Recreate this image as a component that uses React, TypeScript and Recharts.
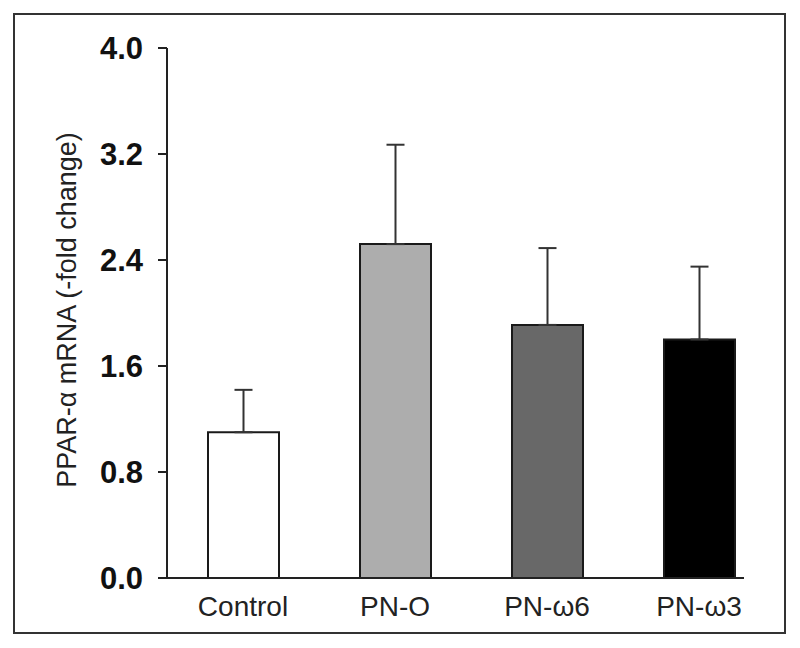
import { BarChart, Bar, XAxis, YAxis, ErrorBar, Cell } from "recharts";

const groups = ["Control", "PN-O", "PN-ω6", "PN-ω3"];
const foldChange = [1.1, 2.52, 1.91, 1.8];
const errorUp = [0.32, 0.75, 0.58, 0.55];
const barColors = ["#ffffff", "#adadad", "#686868", "#000000"];
const yTicks = [0, 0.8, 1.6, 2.4, 3.2, 4.0];

const data = groups.map((name, i) => ({
  name,
  value: foldChange[i],
  err: [0, errorUp[i]],
}));

const font = "'Liberation Sans', Arial, sans-serif";

const App = () => {
  return (
    <div style={{ position: "absolute", left: 0, top: 0, width: 800, height: 648, background: "#fff" }}>
      <div
        style={{
          position: "absolute",
          left: 13,
          top: 13,
          width: 773,
          height: 621,
          border: "2px solid #333",
          boxSizing: "border-box",
        }}
      />
      <div style={{ position: "absolute", left: 0, top: 0 }}>
        <BarChart
          width={800}
          height={648}
          data={data}
          margin={{ top: 48, right: 56, left: 0, bottom: 0 }}
        >
          <XAxis
            dataKey="name"
            height={70}
            axisLine={{ stroke: "#222", strokeWidth: 2 }}
            tickLine={false}
            tickSize={0}
            tickMargin={18}
            padding={{ left: 0, right: -31 }}
            tick={{ fill: "#222", fontSize: 28, fontFamily: font }}
          />
          <YAxis
            width={167}
            domain={[0, 4]}
            ticks={yTicks}
            tickFormatter={(v) => v.toFixed(1)}
            axisLine={{ stroke: "#222", strokeWidth: 2 }}
            tickLine={{ stroke: "#222", strokeWidth: 2 }}
            tickSize={9}
            tickMargin={15}
            tick={{ fill: "#111", fontSize: 31, fontWeight: "bold", fontFamily: font }}
            label={{
              value: "PPAR-α mRNA (-fold change)",
              angle: -90,
              position: "center",
              dx: -17,
              dy: -3,
              fill: "#222",
              fontSize: 27,
              fontFamily: font,
            }}
          />
          <Bar
            dataKey="value"
            barSize={71}
            stroke="#1a1a1a"
            strokeWidth={2}
            isAnimationActive={false}
          >
            {data.map((d, i) => (
              <Cell key={d.name} fill={barColors[i]} />
            ))}
            <ErrorBar dataKey="err" direction="y" width={9} stroke="#333" strokeWidth={2} />
          </Bar>
        </BarChart>
      </div>
    </div>
  );
};

export default App;
